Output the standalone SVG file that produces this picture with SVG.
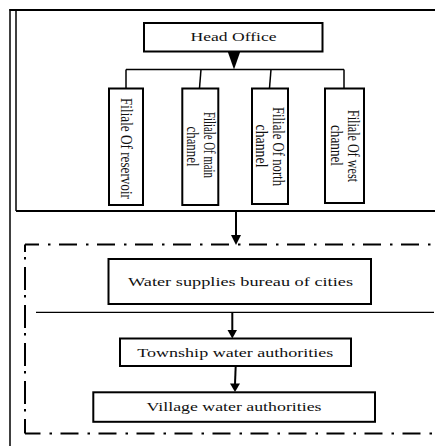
<svg xmlns="http://www.w3.org/2000/svg" width="435" height="446" viewBox="0 0 435 446">
<style>
.box{fill:#fff;stroke:#000;stroke-width:2}
.ln{fill:none;stroke:#000;stroke-width:1.5}
.th{fill:none;stroke:#000;stroke-width:2}
.dh{fill:none;stroke:#000;stroke-width:2;stroke-dasharray:18 9 2.5 8.5}
.dv{fill:none;stroke:#000;stroke-width:2;stroke-dasharray:23 5 2.5 7.5}
.ah{fill:#000}
text{font-family:"Liberation Serif","Times New Roman",serif;fill:#111}
.h{font-size:12px}
.v{font-size:17px}
</style>
<rect width="435" height="446" fill="#fff"/>
<g id="frame">
<line class="ln" x1="10" y1="9" x2="10" y2="446" stroke-width="1.3"/>
<line class="ln" x1="16" y1="10" x2="16" y2="211" stroke-width="1.3"/>
<line class="th" x1="9.5" y1="10" x2="435" y2="10"/>
<line class="th" x1="16" y1="211" x2="435" y2="211"/>
<path class="dh" d="M25,244.5 H440" stroke-dashoffset="4"/>
<path class="dv" d="M25,244.5 V433.5" stroke-dashoffset="15.5"/>
<path class="dh" d="M25,433.5 H440" stroke-dashoffset="2.5"/>
<line x1="36" y1="312.3" x2="434" y2="312.3" stroke="#000" stroke-width="1.2"/>
</g>
<g id="connectors">
<polygon class="ah" points="227.5,51 240.5,51 234,69.5"/>
<line class="ln" x1="126" y1="69.5" x2="344" y2="69.5"/>
<line class="ln" x1="126" y1="69.5" x2="126" y2="88"/>
<line class="ln" x1="201" y1="69.5" x2="199.5" y2="88"/>
<line class="ln" x1="271" y1="69.5" x2="269.5" y2="88"/>
<line class="ln" x1="344" y1="69.5" x2="344" y2="88"/>
<line class="th" x1="236" y1="211" x2="236" y2="236"/>
<polygon class="ah" points="231,235 241,235 236,245"/>
<line class="th" x1="232.3" y1="312.3" x2="232.3" y2="331"/>
<polygon class="ah" points="227.5,330 237,330 232.3,338.5"/>
<line class="th" x1="235.7" y1="366" x2="235" y2="384"/>
<polygon class="ah" points="230,383.5 240,383.5 235,392"/>
</g>
<g id="head-office">
<rect class="box" x="144" y="23" width="178.5" height="28.5"/>
<text class="h" x="233.5" y="41" text-anchor="middle" textLength="86" lengthAdjust="spacingAndGlyphs">Head Office</text>
</g>
<g id="filiale-reservoir">
<rect class="box" x="109" y="88.5" width="34" height="116.5"/>
<text class="v" transform="translate(121,148.5) rotate(90)" text-anchor="middle" textLength="101" lengthAdjust="spacingAndGlyphs">Filiale Of reservoir</text>
</g>
<g id="filiale-main">
<rect class="box" x="182.3" y="88.5" width="36" height="116.5"/>
<text class="v" transform="translate(204,145) rotate(90)" text-anchor="middle" textLength="66" lengthAdjust="spacingAndGlyphs">Filiale Of main</text>
<text class="v" transform="translate(187,146.5) rotate(90)" text-anchor="middle" textLength="40" lengthAdjust="spacingAndGlyphs">channel</text>
</g>
<g id="filiale-north">
<rect class="box" x="252" y="88.5" width="36" height="115.5"/>
<text class="v" transform="translate(273,146.5) rotate(90)" text-anchor="middle" textLength="79" lengthAdjust="spacingAndGlyphs">Filiale Of north</text>
<text class="v" transform="translate(256,146) rotate(90)" text-anchor="middle" textLength="43" lengthAdjust="spacingAndGlyphs">channel</text>
</g>
<g id="filiale-west">
<rect class="box" x="325" y="88.5" width="39" height="114.5"/>
<text class="v" transform="translate(348,146) rotate(90)" text-anchor="middle" textLength="72" lengthAdjust="spacingAndGlyphs">Filiale Of west</text>
<text class="v" transform="translate(330.5,145.5) rotate(90)" text-anchor="middle" textLength="41" lengthAdjust="spacingAndGlyphs">channel</text>
</g>
<g id="water-supplies-bureau">
<rect class="box" x="108.5" y="259" width="262.5" height="45"/>
<text class="h" x="240.5" y="286" text-anchor="middle" textLength="225" lengthAdjust="spacingAndGlyphs">Water supplies bureau of cities</text>
</g>
<g id="township">
<rect class="box" x="120" y="338.5" width="231" height="27.5"/>
<text class="h" x="235.3" y="357" text-anchor="middle" textLength="196" lengthAdjust="spacingAndGlyphs">Township water authorities</text>
</g>
<g id="village">
<rect class="box" x="93.3" y="392.3" width="281.7" height="29.5"/>
<text class="h" x="234" y="410.7" text-anchor="middle" textLength="175" lengthAdjust="spacingAndGlyphs">Village water authorities</text>
</g>
</svg>
